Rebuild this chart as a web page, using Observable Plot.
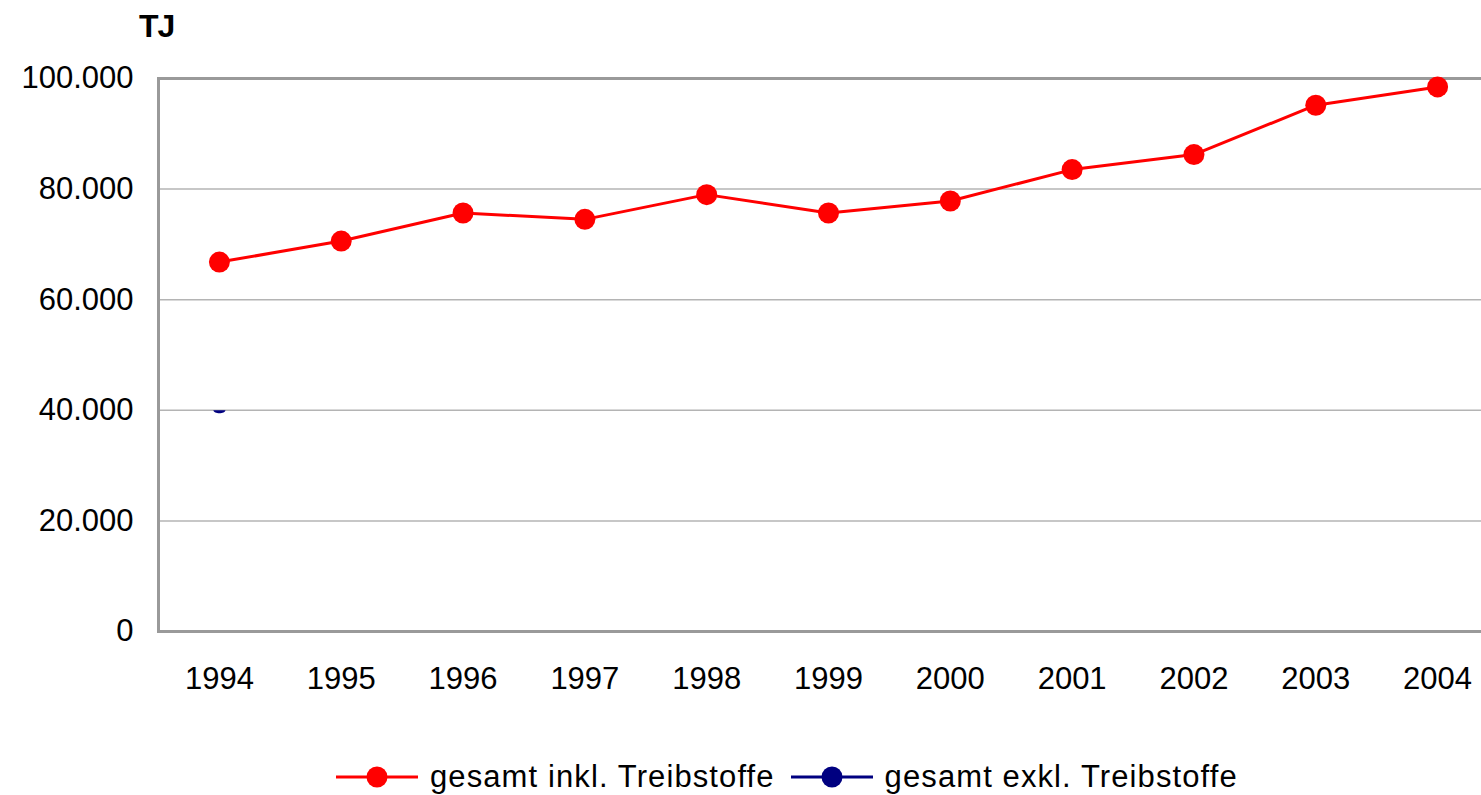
<!DOCTYPE html>
<html>
<head>
<meta charset="utf-8">
<script src="https://cdn.jsdelivr.net/npm/d3@7"></script>
<script src="https://cdn.jsdelivr.net/npm/@observablehq/plot@0.6"></script>
<style>
  html, body { margin: 0; padding: 0; background: #fff; overflow: hidden; width: 1481px; height: 795px; }
  body { font-family: "Liberation Sans", Arial, sans-serif; position: relative; }
  #unit { position: absolute; left: 139px; top: 8px; font-weight: bold; font-size: 32px; line-height: 36px; letter-spacing: -1px; color: #000; }
  #chart { position: absolute; left: 0; top: 50px; }
  #chart svg { max-width: none !important; }
  #legend { position: absolute; left: 336px; top: 759px; display: flex; align-items: center; font-size: 31px; letter-spacing: 1.1px; color: #000; white-space: nowrap; }
  #legend .item { display: flex; align-items: center; }
  #legend svg { display: block; margin-right: 12px; }
</style>
</head>
<body>
<div id="unit">TJ</div>
<div id="chart"></div>
<div id="legend"></div>
<script>
// ---- data ----
const years = ["1994","1995","1996","1997","1998","1999","2000","2001","2002","2003","2004"];
const inklValues = [66800, 70600, 75670, 74530, 79000, 75670, 77840, 83530, 86240, 95170, 98480];
const exklYears = ["1994"];
const exklValues = [40000];
const yTicks = [0, 20000, 40000, 60000, 80000, 100000];
const gridTicks = [20000, 40000, 60000, 80000];
const seriesNames = ["gesamt inkl. Treibstoffe", "gesamt exkl. Treibstoffe"];
const seriesColors = ["#ff0000", "#000080"];

const inkl = years.map((y, i) => ({year: y, value: inklValues[i]}));
const exkl = exklYears.map((y, i) => ({year: y, value: exklValues[i]}));

const de = d3.formatLocale({decimal: ",", thousands: ".", grouping: [3], currency: ["", " €"]});
const fmt = de.format(",d");

// half-ellipse symbol (partially hidden marker)
const halfEllipse = {
  draw(context, size) {
    context.moveTo(-6, 0);
    context.bezierCurveTo(-6, 4, 6, 4, 6, 0);
    context.closePath();
  }
};

const frameColor = "#9a9a9a";
const gridColor = "#b4b4b4";

const chart = Plot.plot({
  width: 1498,
  height: 651,
  marginLeft: 158,
  marginRight: 0,
  marginTop: 28,
  marginBottom: 70,
  style: {fontFamily: "'Liberation Sans', Arial, sans-serif", fontSize: "31px", color: "#000", background: "#fff", overflow: "visible", maxWidth: "none"},
  x: {type: "point", domain: years, padding: 0.5, round: false, label: null},
  y: {domain: [0, 100000], label: null},
  marks: [
    Plot.ruleY(gridTicks, {stroke: gridColor, strokeWidth: 1.5}),
    Plot.ruleY([0, 100000], {stroke: frameColor, strokeWidth: 3}),
    Plot.axisY({ticks: yTicks, tickFormat: fmt, tickSize: 0, tickPadding: 25, fontSize: 31, label: null}),
    Plot.axisX({tickSize: 0, tickPadding: 35, fontSize: 31, label: null}),
    Plot.frame({anchor: "left", stroke: frameColor, strokeWidth: 3}),
    Plot.dot(exkl, {x: "year", y: "value", symbol: halfEllipse, r: 6, fill: seriesColors[1], stroke: "none"}),
    Plot.line(inkl, {x: "year", y: "value", stroke: seriesColors[0], strokeWidth: 3}),
    Plot.dot(inkl, {x: "year", y: "value", r: 10.5, fill: seriesColors[0], stroke: "none"})
  ]
});
document.getElementById("chart").appendChild(chart);

// legend
const legend = document.getElementById("legend");
seriesNames.forEach((name, i) => {
  const item = document.createElement("div");
  item.className = "item";
  if (i > 0) item.style.marginLeft = "16px";
  item.innerHTML = `<svg width="82" height="24"><line x1="0" y1="12" x2="82" y2="12" stroke="${seriesColors[i]}" stroke-width="3"/><circle cx="41" cy="12" r="10.5" fill="${seriesColors[i]}"/></svg><span>${name}</span>`;
  legend.appendChild(item);
});
</script>
</body>
</html>
